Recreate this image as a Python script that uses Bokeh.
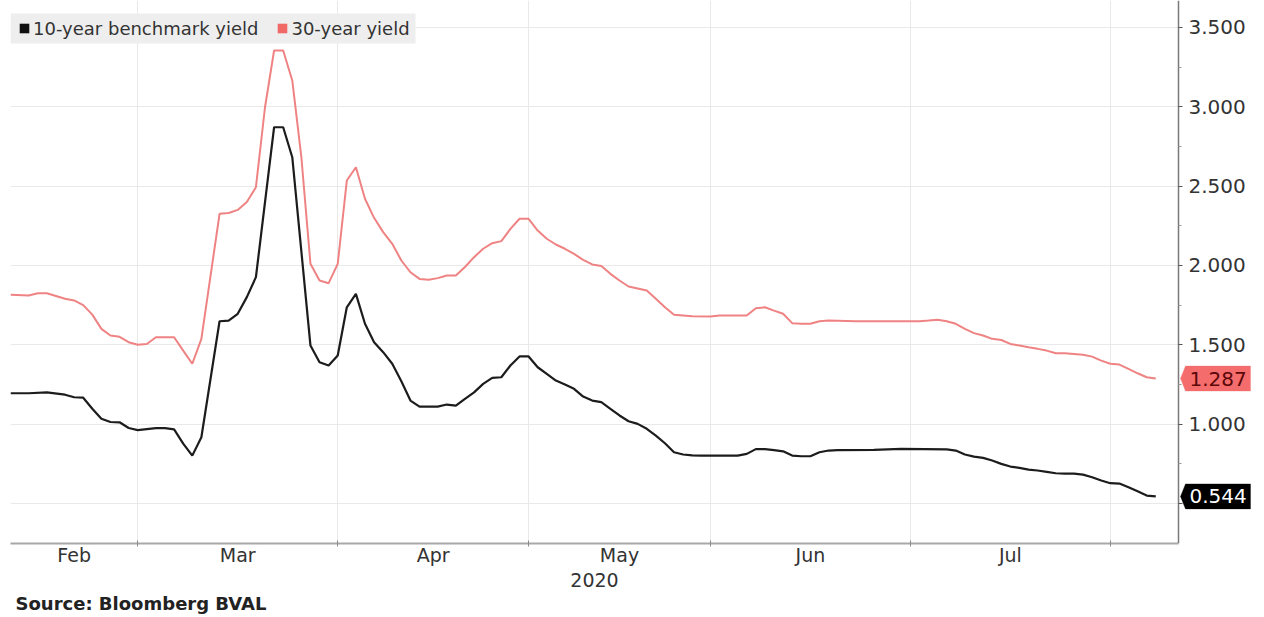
import numpy as np
from bokeh.plotting import figure
from bokeh.models import (Range1d, FixedTicker, LinearAxis, Legend, LegendItem,
                          PrintfTickFormatter, PolyAnnotation, BoxAnnotation, Label, Title)
from bokeh.embed import file_html
from bokeh.resources import INLINE

# ---------------- data ----------------
holidays = ["2020-02-17", "2020-04-10", "2020-05-25", "2020-07-03"]
origin = "2020-03-02"

dates_10y = [
    "2020-02-10", "2020-02-12", "2020-02-14", "2020-02-19", "2020-02-20", "2020-02-21",
    "2020-02-24", "2020-02-25", "2020-02-26", "2020-02-27", "2020-02-28",
    "2020-03-02", "2020-03-03", "2020-03-04", "2020-03-05", "2020-03-06", "2020-03-09",
    "2020-03-10", "2020-03-11", "2020-03-13", "2020-03-16", "2020-03-17", "2020-03-18",
    "2020-03-19", "2020-03-23", "2020-03-24", "2020-03-25", "2020-03-27", "2020-03-30",
    "2020-03-31", "2020-04-01", "2020-04-02", "2020-04-03", "2020-04-06", "2020-04-07",
    "2020-04-08", "2020-04-09", "2020-04-13", "2020-04-14", "2020-04-15", "2020-04-16",
    "2020-04-17", "2020-04-20", "2020-04-21", "2020-04-22", "2020-04-23", "2020-04-24",
    "2020-04-27", "2020-04-28", "2020-04-29", "2020-04-30", "2020-05-01", "2020-05-04",
    "2020-05-05", "2020-05-06", "2020-05-07", "2020-05-08", "2020-05-11", "2020-05-12",
    "2020-05-13", "2020-05-14", "2020-05-15", "2020-05-18", "2020-05-19", "2020-05-20",
    "2020-05-21", "2020-05-22", "2020-05-26", "2020-05-27", "2020-05-28", "2020-05-29",
    "2020-06-04", "2020-06-05", "2020-06-08", "2020-06-09", "2020-06-10", "2020-06-11",
    "2020-06-12", "2020-06-15", "2020-06-16", "2020-06-17", "2020-06-18", "2020-06-19",
    "2020-06-25", "2020-06-30", "2020-07-08", "2020-07-09", "2020-07-10", "2020-07-13",
    "2020-07-14", "2020-07-15", "2020-07-16", "2020-07-17", "2020-07-20", "2020-07-21",
    "2020-07-22", "2020-07-23", "2020-07-24", "2020-07-27", "2020-07-28", "2020-07-29",
    "2020-07-30", "2020-07-31", "2020-08-03", "2020-08-04", "2020-08-05", "2020-08-06",
    "2020-08-07", "2020-08-10",
]
yield_10y = [
    1.194, 1.194, 1.200, 1.185, 1.169, 1.166,
    1.096, 1.033, 1.013, 1.011, 0.975,
    0.962, 0.968, 0.974, 0.974, 0.966, 0.877,
    0.801, 0.917, 1.648, 1.652, 1.695, 1.800,
    1.926, 2.871, 2.871, 2.682, 1.495, 1.390,
    1.369, 1.432, 1.736, 1.821, 1.632, 1.516,
    1.453, 1.380, 1.270, 1.148, 1.110, 1.110,
    1.110, 1.123, 1.116, 1.159, 1.200, 1.253,
    1.291, 1.295, 1.369, 1.426, 1.426, 1.358,
    1.316, 1.274, 1.249, 1.222, 1.173, 1.148,
    1.138, 1.096, 1.054, 1.018, 1.001, 0.970,
    0.927, 0.879, 0.822, 0.808, 0.803, 0.801,
    0.801, 0.812, 0.842, 0.842, 0.836, 0.828,
    0.801, 0.797, 0.797, 0.822, 0.833, 0.835,
    0.837, 0.844, 0.840, 0.833, 0.808, 0.795,
    0.787, 0.770, 0.749, 0.732, 0.724, 0.713,
    0.707, 0.699, 0.690, 0.688, 0.688, 0.681,
    0.665, 0.644, 0.627, 0.625, 0.602, 0.576,
    0.549, 0.544,
]

dates_30y = [
    "2020-02-10", "2020-02-12", "2020-02-13", "2020-02-14", "2020-02-19", "2020-02-20",
    "2020-02-21", "2020-02-24", "2020-02-25", "2020-02-26", "2020-02-27", "2020-02-28",
    "2020-03-02", "2020-03-03", "2020-03-04", "2020-03-06", "2020-03-09", "2020-03-10",
    "2020-03-11", "2020-03-13", "2020-03-16", "2020-03-17", "2020-03-18", "2020-03-19",
    "2020-03-20", "2020-03-23", "2020-03-24", "2020-03-25", "2020-03-26", "2020-03-27",
    "2020-03-30", "2020-03-31", "2020-04-01", "2020-04-02", "2020-04-03", "2020-04-06",
    "2020-04-07", "2020-04-08", "2020-04-09", "2020-04-13", "2020-04-14", "2020-04-15",
    "2020-04-16", "2020-04-17", "2020-04-20", "2020-04-21", "2020-04-22", "2020-04-23",
    "2020-04-24", "2020-04-27", "2020-04-28", "2020-04-29", "2020-04-30", "2020-05-01",
    "2020-05-04", "2020-05-05", "2020-05-06", "2020-05-07", "2020-05-08", "2020-05-11",
    "2020-05-12", "2020-05-13", "2020-05-14", "2020-05-15", "2020-05-18", "2020-05-19",
    "2020-05-20", "2020-05-21", "2020-05-22", "2020-05-26", "2020-05-27", "2020-05-28",
    "2020-06-01", "2020-06-02", "2020-06-05", "2020-06-08", "2020-06-09", "2020-06-10",
    "2020-06-11", "2020-06-12", "2020-06-15", "2020-06-16", "2020-06-17", "2020-06-18",
    "2020-06-23", "2020-07-02", "2020-07-06", "2020-07-07", "2020-07-08", "2020-07-09",
    "2020-07-10", "2020-07-13", "2020-07-14", "2020-07-15", "2020-07-16", "2020-07-17",
    "2020-07-20", "2020-07-21", "2020-07-22", "2020-07-23", "2020-07-24", "2020-07-27",
    "2020-07-28", "2020-07-29", "2020-07-30", "2020-07-31", "2020-08-03", "2020-08-04",
    "2020-08-05", "2020-08-06", "2020-08-07", "2020-08-10",
]
yield_30y = [
    1.815, 1.810, 1.825, 1.825, 1.790, 1.779,
    1.750, 1.690, 1.600, 1.558, 1.550, 1.516,
    1.500, 1.505, 1.547, 1.547, 1.463, 1.380,
    1.537, 2.325, 2.330, 2.350, 2.400, 2.493,
    2.997, 3.355, 3.355, 3.166, 2.682, 2.010,
    1.905, 1.888, 2.010, 2.535, 2.619, 2.420,
    2.300, 2.210, 2.136, 2.031, 1.957, 1.915,
    1.909, 1.920, 1.936, 1.936, 1.990, 2.052,
    2.105, 2.140, 2.153, 2.230, 2.294, 2.294,
    2.220, 2.168, 2.132, 2.105, 2.073, 2.035,
    2.006, 1.997, 1.947, 1.905, 1.867, 1.855,
    1.842, 1.790, 1.736, 1.689, 1.685, 1.680,
    1.678, 1.684, 1.684, 1.730, 1.736, 1.715,
    1.695, 1.636, 1.632, 1.632, 1.648, 1.652,
    1.648, 1.648, 1.652, 1.657, 1.648, 1.632,
    1.600, 1.573, 1.558, 1.537, 1.530, 1.505,
    1.495, 1.484, 1.474, 1.463, 1.446, 1.446,
    1.442, 1.437, 1.425, 1.400, 1.380, 1.375,
    1.348, 1.320, 1.295, 1.287,
]

series_names = ["10-year benchmark yield", "30-year yield"]
month_starts = ["2020-02-10", "2020-03-02", "2020-04-01", "2020-05-01",
                "2020-06-01", "2020-07-01", "2020-08-03"]
month_labels = ["Feb", "Mar", "Apr", "May", "Jun", "Jul"]
year_label = "2020"
y_ticks = [0.5, 1.0, 1.5, 2.0, 2.5, 3.0, 3.5]
y_minor_ticks = [0.75, 1.25, 1.75, 2.25, 2.75, 3.25]
source_text = "Source: Bloomberg BVAL"

assert len(dates_10y) == len(yield_10y)
assert len(dates_30y) == len(yield_30y)


def bday_index(ds):
    return np.busday_count(origin, np.array(ds, dtype="datetime64[D]"),
                           holidays=holidays).astype(float)


x10 = bday_index(dates_10y)
x30 = bday_index(dates_30y)
ms = bday_index(month_starts)

# ---------------- styling ----------------
FONT = "DejaVu Sans"
BLACK = "#1c1c1c"
PINK_LINE = "#ef8383"
PINK_TAG = "#f46c6c"
GRID = "#e9e9e9"
TEXT = "#333333"
LEGEND_BG = "#eeeeee"

LEFT = 10
AXIS_PX = 1178          # x pixel of the right value axis
FRAME_W, FRAME_H = 1264 - LEFT, 543

x_start = float(ms[0])
axis_x = float(max(x10[-1], x30[-1])) + 2.5
px_x = (AXIS_PX - LEFT) / (axis_x - x_start)
x_end = x_start + FRAME_W / px_x
y_start, y_end = 0.247, 3.67
px_y = FRAME_H / (y_end - y_start)

p = figure(frame_width=FRAME_W, frame_height=FRAME_H,
           x_range=Range1d(x_start, x_end), y_range=Range1d(y_start, y_end),
           output_backend="svg", toolbar_location=None, y_axis_location="right",
           min_border_left=LEFT, min_border_top=0, min_border_right=0,
           min_border_bottom=50, background_fill_color="white",
           border_fill_color="white")
p.outline_line_color = None

# grids
boundaries = [float(v) for v in ms[1:]]
mids = [float((ms[i] + ms[i + 1]) / 2) for i in range(len(month_labels))]
p.xgrid.ticker = FixedTicker(ticks=boundaries)
p.xgrid.grid_line_color = GRID
p.ygrid.grid_line_color = GRID
p.ygrid.cross_bounds = (x_start, axis_x)

# bottom axis: month labels, month-boundary ticks
xa = p.xaxis[0]
xa.bounds = (x_start, axis_x)
xa.ticker = FixedTicker(ticks=mids, minor_ticks=boundaries)
xa.major_label_overrides = {m: lab for m, lab in zip(mids, month_labels)}
xa.major_tick_line_color = None
xa.minor_tick_line_color = "#8a8a8a"
xa.minor_tick_in = 3
xa.minor_tick_out = 3
xa.axis_line_color = "#a8a8a8"
xa.axis_line_width = 2
xa.major_label_text_font = FONT
xa.major_label_text_font_size = "19px"
xa.major_label_text_color = TEXT
xa.major_label_standoff = -6

# year axis
center = (x_start + axis_x) / 2
ya2 = LinearAxis(ticker=FixedTicker(ticks=[center], minor_ticks=[]),
                 major_label_overrides={center: year_label},
                 axis_line_color=None, major_tick_line_color=None,
                 minor_tick_line_color=None, major_label_standoff=-2,
                 major_label_text_font=FONT, major_label_text_font_size="19px",
                 major_label_text_color=TEXT)
p.add_layout(ya2, "below")

# right value axis, pinned at the end of the data window
ya = p.yaxis[0]
ya.fixed_location = axis_x
ya.ticker = FixedTicker(ticks=y_ticks, minor_ticks=y_minor_ticks)
ya.formatter = PrintfTickFormatter(format="%.3f")
ya.major_label_overrides = {0.5: ""}
ya.axis_line_color = "#7a7a7a"
ya.axis_line_width = 1.5
ya.major_tick_line_color = "#555555"
ya.minor_tick_line_color = "#9a9a9a"
ya.major_tick_in = 0
ya.major_tick_out = 4
ya.minor_tick_in = 0
ya.minor_tick_out = 3
ya.major_label_standoff = 6
ya.major_label_text_font = FONT
ya.major_label_text_font_size = "20px"
ya.major_label_text_color = TEXT

# legend background band
p.add_layout(BoxAnnotation(left=x_start, right=x_start + 405 / px_x,
                           top=y_end - 13 / px_y, bottom=y_end - 43 / px_y,
                           fill_color=LEGEND_BG, fill_alpha=1.0, line_color=None,
                           level="underlay"))

# lines
r30 = p.line(x30, yield_30y, line_color=PINK_LINE, line_width=2)
r10 = p.line(x10, yield_10y, line_color=BLACK, line_width=2.2)

# legend swatches (no visible data)
nan = [float("nan")]
sw10 = p.quad(left=nan, right=nan, top=nan, bottom=nan, fill_color="#111111", line_color=None)
sw30 = p.quad(left=nan, right=nan, top=nan, bottom=nan, fill_color="#f06868", line_color=None)
legend = Legend(items=[LegendItem(label=series_names[0], renderers=[sw10]),
                       LegendItem(label=series_names[1], renderers=[sw30])],
                orientation="horizontal", location=(8, FRAME_H - 43),
                background_fill_color=LEGEND_BG, background_fill_alpha=0.0,
                border_line_color=None, label_text_font=FONT,
                label_text_font_size="18px", label_text_color=TEXT,
                glyph_width=12, glyph_height=12, label_standoff=3,
                label_height=30, spacing=18, padding=0, margin=0)
p.add_layout(legend, "center")

# last-value tags
for val, bg, fg in [(yield_30y[-1], PINK_TAG, "#5a0808"), (yield_10y[-1], "#000000", "#ffffff")]:
    x0 = axis_x + 2 / px_x
    x1 = axis_x + 7 / px_x
    x2 = axis_x + 72 / px_x
    hh = 12.5 / px_y
    p.add_layout(PolyAnnotation(xs=[x0, x1, x2, x2, x1], ys=[val, val + hh, val + hh, val - hh, val - hh],
                                fill_color=bg, fill_alpha=1.0, line_color=bg, line_width=1))
    p.add_layout(Label(x=x1, y=val, x_offset=4, text=f"{val:.3f}", text_baseline="middle",
                       text_align="left", text_font=FONT, text_font_size="20px",
                       text_color=fg))

# source note
p.add_layout(Title(text=source_text, align="left", offset=5, text_font=FONT,
                   text_font_style="bold", text_font_size="18px", text_color="#222222",
                   standoff=3), "below")

open("out.html", "w").write(file_html(p, INLINE))
